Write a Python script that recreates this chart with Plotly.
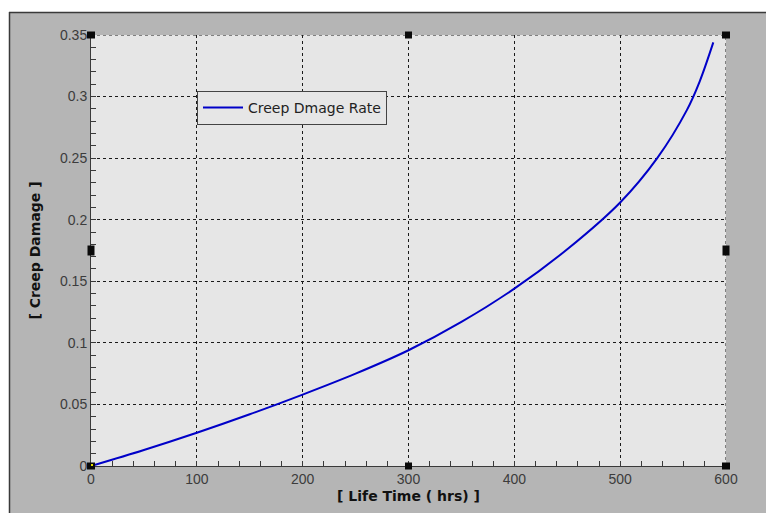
import plotly.graph_objects as go

# Creep damage accumulated over life time
life_time_hrs = [0, 50, 100, 150, 200, 250, 300, 350, 400, 450, 500, 535, 563, 575, 588]
creep_damage = [0.0, 0.013, 0.027, 0.042, 0.058, 0.075, 0.094, 0.117, 0.144, 0.176,
                0.214, 0.250, 0.289, 0.312, 0.344]

x_ticks = [0, 100, 200, 300, 400, 500, 600]
y_ticks = [0, 0.05, 0.1, 0.15, 0.2, 0.25, 0.3, 0.35]

W, H = 766, 513
ML, MR, MT, MB = 91, 40, 35, 47
PW, PH = W - ML - MR, H - MT - MB

TICK_FONT = dict(family="Liberation Sans, Arial, sans-serif", size=14, color="#3c3c3c")
TITLE_FONT = dict(family="DejaVu Sans, Verdana, sans-serif", size=14, color="#111")


def px_x(p):
    return (p - ML) / PW


def px_y(p):
    return (H - MB - p) / PH


fig = go.Figure()
fig.add_trace(go.Scatter(
    x=life_time_hrs, y=creep_damage, mode="lines",
    name="Creep Dmage Rate",
    line=dict(color="#0000c8", width=2, shape="spline", smoothing=1.0),
))

axis_common = dict(
    showgrid=True, gridcolor="#1a1a1a", gridwidth=1, griddash="3px,3px",
    showline=True, linecolor="#3a3a3a", linewidth=1, mirror=False,
    ticks="inside", ticklen=5, tickcolor="#3a3a3a",
    zeroline=False,
    tickfont=TICK_FONT,
)

fig.update_xaxes(
    range=[0, 600], tickvals=x_ticks,
    minor=dict(dtick=20, tick0=0, ticks="inside", ticklen=5, tickcolor="#3a3a3a", showgrid=False),
    title=dict(text="<b>[ Life Time ( hrs) ]</b>", standoff=5, font=TITLE_FONT),
    **axis_common,
)
fig.update_yaxes(
    range=[0, 0.35], tickvals=y_ticks, ticktext=[f"{v:g}" for v in y_ticks],
    minor=dict(dtick=0.01, tick0=0, ticks="inside", ticklen=5, tickcolor="#3a3a3a", showgrid=False),
    title=dict(text="<b>[ Creep Damage ]</b>", standoff=16, font=TITLE_FONT),
    **axis_common,
)

shapes = []
# white frame strips and dark border of the gray panel
shapes.append(dict(type="rect", xref="paper", yref="paper", layer="below",
                   x0=px_x(0), x1=px_x(W), y0=px_y(12), y1=px_y(0),
                   fillcolor="white", line=dict(width=0)))
shapes.append(dict(type="rect", xref="paper", yref="paper", layer="below",
                   x0=px_x(0), x1=px_x(9), y0=px_y(H), y1=px_y(0),
                   fillcolor="white", line=dict(width=0)))
shapes.append(dict(type="line", xref="paper", yref="paper",
                   x0=px_x(9), x1=px_x(W), y0=px_y(12.5), y1=px_y(12.5),
                   line=dict(color="#3a3a3a", width=1.5)))
shapes.append(dict(type="line", xref="paper", yref="paper",
                   x0=px_x(9.5), x1=px_x(9.5), y0=px_y(12), y1=px_y(H),
                   line=dict(color="#3a3a3a", width=1.5)))

# top and right dashed borders of the plot area
shapes.append(dict(type="line", xref="x", yref="y", x0=0, x1=600, y0=0.35, y1=0.35,
                   line=dict(color="#1a1a1a", width=1, dash="3px,3px")))
shapes.append(dict(type="line", xref="x", yref="y", x0=600, x1=600, y0=0, y1=0.35,
                   line=dict(color="#1a1a1a", width=1, dash="3px,3px")))

# selection handles around the plot area
for hx, hy, w, h in [(0, 1, 8, 7), (0.5, 1, 7, 7), (1, 1, 8, 7),
                     (0, 0.5, 7, 10), (1, 0.5, 7, 10),
                     (0, 0, 8, 7), (0.5, 0, 7, 7), (1, 0, 8, 7)]:
    shapes.append(dict(type="rect", xref="paper", yref="paper",
                       xsizemode="pixel", ysizemode="pixel",
                       xanchor=hx, yanchor=hy, x0=-w / 2, x1=w / 2, y0=-h / 2, y1=h / 2,
                       fillcolor="#0a0a0a", line=dict(width=0)))
shapes.append(dict(type="rect", xref="paper", yref="paper", xsizemode="pixel", ysizemode="pixel",
                   xanchor=0, yanchor=0, x0=0, x1=2, y0=0, y1=2,
                   fillcolor="#e8e000", line=dict(width=0)))

fig.update_layout(
    width=W, height=H,
    margin=dict(l=ML, r=MR, t=MT, b=MB, pad=0),
    paper_bgcolor="#b5b5b5",
    plot_bgcolor="#e6e6e6",
    shapes=shapes,
    showlegend=True,
    legend=dict(
        x=px_x(197), y=px_y(91), xanchor="left", yanchor="top",
        bgcolor="#e6e6e6", bordercolor="#444", borderwidth=1,
        font=dict(family="DejaVu Sans, Verdana, sans-serif", size=14, color="#222"),
        itemwidth=40, tracegroupgap=0,
    ),
    font=dict(family="Liberation Sans, Arial, sans-serif"),
)

fig.write_html("out.html")
